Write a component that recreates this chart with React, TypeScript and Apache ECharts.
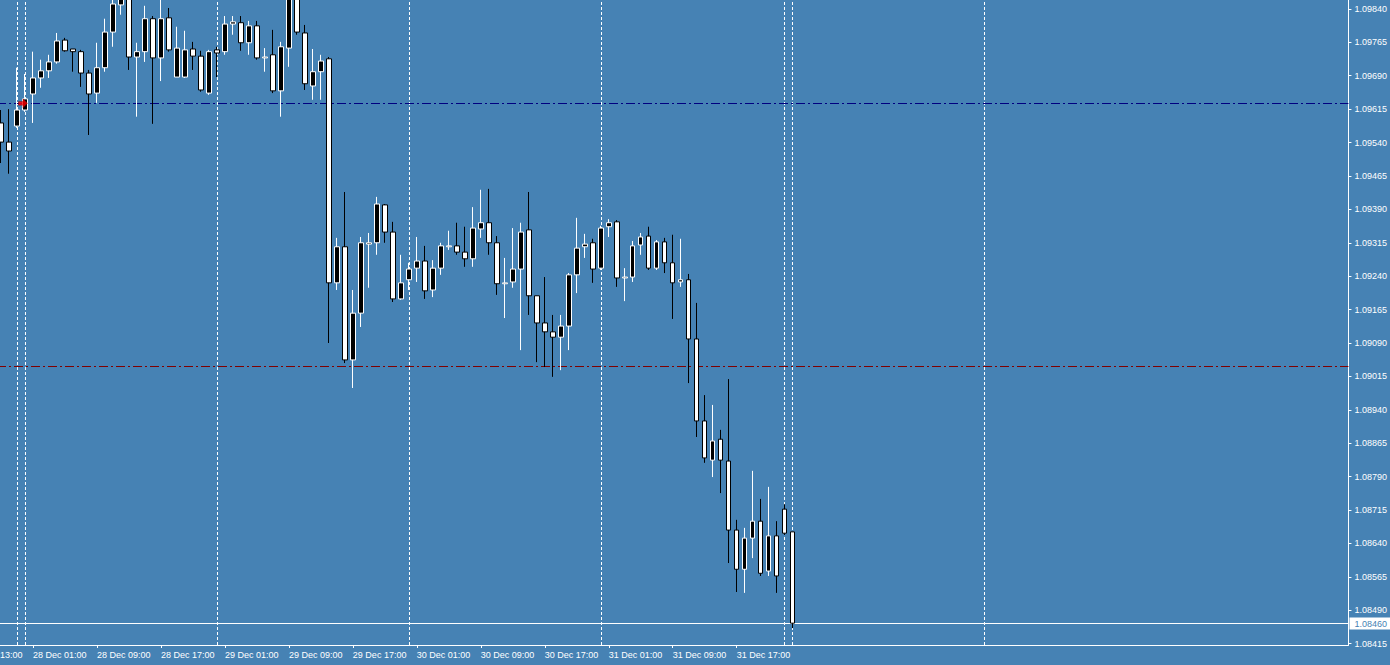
import React, { useEffect, useRef } from 'react';
import * as echarts from 'echarts';

// ---- hourly categories (27 Dec 21:00 onwards, 169 slots visible) ----
const dayNames = ['27 Dec', '28 Dec', '29 Dec', '30 Dec', '31 Dec', '1 Jan', '2 Jan', '3 Jan', '4 Jan'];
const categories: string[] = [];
for (let k = 0; k < 169; k++) {
  const t = 21 + k;
  const d = Math.floor(t / 24);
  const h = t % 24;
  categories.push(`${dayNames[d]} ${String(h).padStart(2, '0')}:00`);
}

const xTickLabels = [
  '28 Dec 01:00', '28 Dec 09:00', '28 Dec 17:00', '29 Dec 01:00', '29 Dec 09:00', '29 Dec 17:00',
  '30 Dec 01:00', '30 Dec 09:00', '30 Dec 17:00', '31 Dec 01:00', '31 Dec 09:00', '31 Dec 17:00',
];

const separators = [
  '27 Dec 23:00', '28 Dec 00:00', '29 Dec 00:00', '30 Dec 00:00', '31 Dec 00:00',
  '31 Dec 23:00', '1 Jan 00:00', '2 Jan 00:00',
];

const yTicks = [
  1.08415, 1.0849, 1.08565, 1.0864, 1.08715, 1.0879, 1.08865, 1.0894, 1.09015, 1.0909,
  1.09165, 1.0924, 1.09315, 1.0939, 1.09465, 1.0954, 1.09615, 1.0969, 1.09765, 1.0984,
];

const opens = [
  1.09584, 1.09541, 1.09577, 1.09613, 1.09649, 1.09685, 1.09701, 1.09721, 1.0977, 1.0975,
  1.09744, 1.09696, 1.09651, 1.09708, 1.09788, 1.09849, 1.09871, 1.09732, 1.09744, 1.09818,
  1.0973, 1.0982, 1.09687, 1.09687, 1.0975, 1.09734, 1.09651, 1.09748, 1.09744, 1.09806,
  1.09809, 1.09764, 1.09802, 1.0973, 1.09737, 1.09656, 1.09752, 1.09865, 1.09786, 1.09667,
  1.09699, 1.09728, 1.09225, 1.09306, 1.09052, 1.09157, 1.09312, 1.09315, 1.094, 1.09339,
  1.09189, 1.09232, 1.09258, 1.09274, 1.09209, 1.09258, 1.09306, 1.09308, 1.09294, 1.09279,
  1.09346, 1.0936, 1.09315, 1.09223, 1.09227, 1.09256, 1.09344, 1.09196, 1.09135, 1.09115,
  1.09103, 1.09128, 1.09243, 1.09306, 1.09315, 1.09258, 1.09351, 1.09362, 1.09236, 1.09238,
  1.0931, 1.0933, 1.09258, 1.09317, 1.0927, 1.09227, 1.09232, 1.09099, 1.08915, 1.08827,
  1.08874, 1.08825, 1.0867, 1.08582, 1.08652, 1.0869, 1.08578, 1.08657, 1.08717, 1.08666,
];

const closes = [
  1.09541, 1.09521, 1.09613, 1.09638, 1.09685, 1.09701, 1.09721, 1.09768, 1.09746, 1.09744,
  1.09696, 1.09649, 1.09708, 1.09788, 1.09851, 1.09867, 1.09732, 1.09744, 1.09818, 1.0973,
  1.09818, 1.09748, 1.09752, 1.09748, 1.09734, 1.09658, 1.09744, 1.09741, 1.09806, 1.09811,
  1.09764, 1.09802, 1.0973, 1.09732, 1.09656, 1.09755, 1.09867, 1.09788, 1.09672, 1.09699,
  1.09723, 1.09225, 1.09306, 1.09052, 1.09157, 1.09315, 1.09315, 1.09402, 1.09339, 1.09189,
  1.09225, 1.09256, 1.09274, 1.09207, 1.09258, 1.09308, 1.09308, 1.09294, 1.09279, 1.09348,
  1.0936, 1.09315, 1.09223, 1.09225, 1.09256, 1.09339, 1.09196, 1.09135, 1.09115, 1.09103,
  1.09128, 1.09243, 1.09303, 1.09312, 1.09256, 1.09348, 1.0936, 1.09236, 1.09238, 1.09308,
  1.09328, 1.09258, 1.09317, 1.0927, 1.09225, 1.09232, 1.09099, 1.08915, 1.08832, 1.0887,
  1.08827, 1.0867, 1.08582, 1.08652, 1.0869, 1.08573, 1.08657, 1.08567, 1.08663, 1.08461,
];

const lows = [
  1.09494, 1.0947, 1.09573, 1.09609, 1.09584, 1.09663, 1.09685, 1.09717, 1.09744, 1.09699,
  1.09665, 1.09557, 1.09629, 1.09699, 1.09755, 1.09827, 1.09703, 1.09598, 1.09721, 1.09582,
  1.09678, 1.09744, 1.09687, 1.09685, 1.09703, 1.09654, 1.09647, 1.09687, 1.09737, 1.09782,
  1.09746, 1.09737, 1.09726, 1.09699, 1.09651, 1.09598, 1.0971, 1.09782, 1.09658, 1.09636,
  1.09636, 1.0909, 1.09209, 1.09045, 1.08989, 1.09126, 1.09214, 1.09288, 1.09315, 1.09182,
  1.09187, 1.09209, 1.09227, 1.09189, 1.09193, 1.09243, 1.09299, 1.09288, 1.09261, 1.09261,
  1.09326, 1.09288, 1.09198, 1.09146, 1.09214, 1.09074, 1.09153, 1.09047, 1.09036, 1.09014,
  1.09029, 1.09074, 1.09202, 1.09281, 1.09225, 1.09254, 1.09328, 1.09216, 1.09184, 1.09227,
  1.09288, 1.09254, 1.09254, 1.09247, 1.09144, 1.09216, 1.09, 1.08879, 1.08821, 1.08789,
  1.08753, 1.08596, 1.08531, 1.08529, 1.08607, 1.08567, 1.08567, 1.08529, 1.08659, 1.0845,
];

const highs = [
  1.09613, 1.09615, 1.09708, 1.09694, 1.09744, 1.09726, 1.09737, 1.09786, 1.09775, 1.0975,
  1.09748, 1.09703, 1.09764, 1.09818, 1.09867, 1.09878, 1.09883, 1.09764, 1.09847, 1.09824,
  1.0986, 1.09842, 1.098, 1.09791, 1.09766, 1.09746, 1.09748, 1.09755, 1.09824, 1.09824,
  1.09824, 1.09813, 1.09813, 1.09752, 1.09793, 1.09766, 1.09883, 1.09871, 1.09804, 1.0975,
  1.09737, 1.09732, 1.09326, 1.09429, 1.09209, 1.09328, 1.09337, 1.09418, 1.09402, 1.09362,
  1.09288, 1.0927, 1.09328, 1.09308, 1.09276, 1.09315, 1.09342, 1.0936, 1.09351, 1.09395,
  1.09434, 1.09436, 1.0933, 1.09281, 1.09348, 1.0936, 1.09429, 1.09196, 1.09238, 1.09153,
  1.09153, 1.09247, 1.09371, 1.09335, 1.09324, 1.09353, 1.09368, 1.09366, 1.09258, 1.09319,
  1.09337, 1.09351, 1.09321, 1.09326, 1.09333, 1.09324, 1.09245, 1.0918, 1.08973, 1.08951,
  1.08895, 1.09009, 1.08693, 1.08675, 1.08803, 1.0874, 1.08767, 1.0869, 1.08728, 1.08666,
];

const blueLevel = 1.09628;
const redLevel = 1.09037;
const currentPrice = 1.0846;
const arrowMarks = [{ time: '28 Dec 00:00', price: 1.09628 }];

const FONT = 'Liberation Sans';
const BG = '#4682B4';
const SHIFT = 3; // chart canvas starts 3px left of the page edge

export default function App() {
  const ref = useRef<HTMLDivElement>(null);

  useEffect(() => {
    document.body.style.margin = '0';
    document.body.style.background = BG;
    const chart = echarts.init(ref.current!, undefined, { renderer: 'svg' });
    const candleData = opens.map((o, i) => [o, closes[i], lows[i], highs[i]]);
    const showLabel = (idx: number) => xTickLabels.includes(categories[idx]);

    chart.setOption({
      animation: false,
      backgroundColor: BG,
      textStyle: { fontFamily: FONT },
      grid: { left: 0, right: 41, top: 0, bottom: 20, containLabel: false },
      xAxis: {
        type: 'category',
        data: categories,
        boundaryGap: true,
        axisLine: { show: true, lineStyle: { color: '#ffffff', width: 1 } },
        axisTick: {
          show: true,
          alignWithLabel: true,
          interval: (idx: number) => showLabel(idx),
          length: 3,
          lineStyle: { color: '#ffffff' },
        },
        axisLabel: {
          interval: (idx: number) => showLabel(idx),
          align: 'left',
          color: '#ffffff',
          fontSize: 9,
          fontFamily: FONT,
          margin: 5,
        },
        splitLine: { show: false },
      },
      yAxis: {
        type: 'value',
        position: 'right',
        min: 1.08412,
        max: 1.0986,
        axisLine: { show: true, lineStyle: { color: '#ffffff', width: 1 } },
        axisTick: { show: true, customValues: yTicks, length: 3, lineStyle: { color: '#ffffff' } },
        axisLabel: {
          customValues: yTicks,
          formatter: (v: number) => v.toFixed(5),
          color: '#ffffff',
          fontSize: 9,
          fontFamily: FONT,
          margin: 6,
        },
        splitLine: { show: false },
      },
      graphic: [
        {
          type: 'text',
          left: SHIFT,
          top: 650,
          style: { text: '13:00', fill: '#ffffff', font: `9px "${FONT}"` },
        },
      ],
      series: [
        {
          type: 'candlestick',
          data: candleData,
          barWidth: 5,
          clip: true,
          z: 3,
          itemStyle: {
            color: '#000000',
            color0: '#ffffff',
            borderColor: '#ffffff',
            borderColor0: '#000000',
            borderWidth: 1,
          },
        },
        {
          type: 'scatter',
          data: arrowMarks.map((m) => [m.time, m.price]),
          symbol: 'path://M0,3 L5,3 L5,0 L10,5 L5,10 L5,7 L0,7 Z',
          symbolSize: [9, 9],
          symbolOffset: [-2, 0],
          itemStyle: { color: '#ff0000', borderColor: '#7a0000', borderWidth: 0.5 },
          z: 5,
          markLine: {
            silent: true,
            symbol: ['none', 'none'],
            animation: false,
            precision: 5,
            z: 2,
            label: { show: false },
            data: [
              ...separators.map((s) => ({
                xAxis: s,
                lineStyle: { color: '#ffffff', type: [3, 2], width: 1 },
              })),
              { yAxis: blueLevel, lineStyle: { color: '#000080', type: [9, 3, 2, 3], width: 1 } },
              { yAxis: redLevel, lineStyle: { color: '#800000', type: [9, 3, 2, 3], width: 1 } },
              {
                yAxis: currentPrice,
                lineStyle: { color: '#ffffff', type: 'solid', width: 1 },
                label: {
                  show: true,
                  position: 'end',
                  distance: 1,
                  formatter: () => currentPrice.toFixed(5),
                  backgroundColor: '#ffffff',
                  color: BG,
                  fontSize: 9,
                  fontFamily: FONT,
                  padding: [2, 6, 1, 5],
                },
              },
            ],
          },
        },
      ],
    });

    return () => chart.dispose();
  }, []);

  return (
    <div
      ref={ref}
      style={{ position: 'fixed', left: -SHIFT, top: 0, width: 1390 + SHIFT, height: 665 }}
    />
  );
}
